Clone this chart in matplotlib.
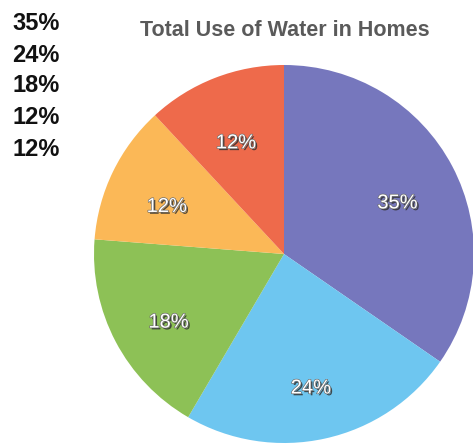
import matplotlib
matplotlib.use("Agg")
import matplotlib.pyplot as plt
import matplotlib.patheffects as pe

title = "Total Use of Water in Homes"
values = [35, 24, 18, 12, 12]
pct_labels = ["35%", "24%", "18%", "12%", "12%"]
colors = ["#7677bd", "#6ec6f0", "#8dc156", "#fbb857", "#ee6a4b"]
side_list = ["35%", "24%", "18%", "12%", "12%"]

W, H = 473, 444
fig = plt.figure(figsize=(W / 100, H / 100), dpi=100)
fig.patch.set_facecolor("white")

# pie axes placed in pixel geometry
cx, cy, rx, ry = 284, 254, 190, 189
ax = fig.add_axes([(cx - rx) / W, (H - cy - ry) / H, 2 * rx / W, 2 * ry / H])
wedges, texts = ax.pie(values, labels=pct_labels, colors=colors, startangle=90,
                       counterclock=False, labeldistance=0.68,
                       wedgeprops=dict(linewidth=0))
ax.set_aspect("auto")
ax.set_xlim(-1, 1)
ax.set_ylim(-1, 1)
ax.axis("off")
for t in texts:
    x, y = t.get_position()
    t.set_position((x - 0.005, y - 0.045))
    t.set_ha("center")
    t.set_va("center")
    t.set_color("white")
    t.set_fontsize(14.5)
    t.set_family(["Liberation Sans", "DejaVu Sans"])
    t.set_path_effects([pe.withSimplePatchShadow(offset=(1.3, -1.3), shadow_rgbFace="#333333", alpha=0.85),
                        pe.Stroke(linewidth=0.9, foreground="#666666"), pe.Normal()])

fig.text(285 / W, 1 - 30 / H, title, ha="center", va="center", fontsize=15.5,
         fontweight="bold", color="#5a5a5a", family=["Liberation Sans", "DejaVu Sans"])

ys = [24, 56, 86, 117, 149]
for s, y in zip(side_list, ys):
    fig.text(12 / W, 1 - y / H, s, ha="left", va="center", fontsize=17, fontweight="bold",
             color="#111111", family=["Liberation Sans", "DejaVu Sans"])

fig.savefig("out.png", dpi=100, facecolor="white")
